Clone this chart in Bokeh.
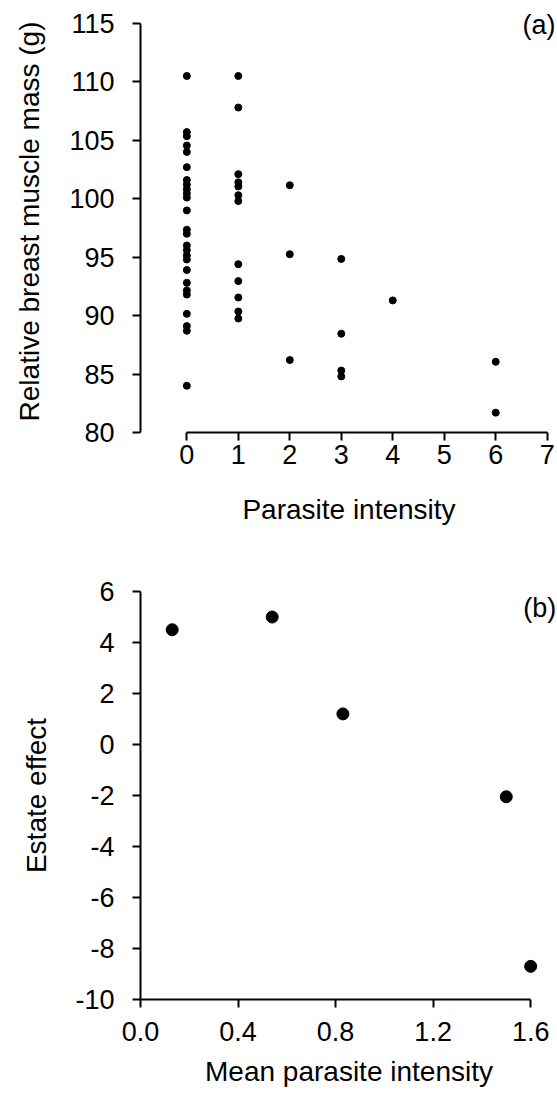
from bokeh.plotting import figure
from bokeh.layouts import column
from bokeh.models import FixedTicker, Label, Range1d
from bokeh.embed import file_html
from bokeh.resources import INLINE

FONT = "Liberation Sans"

# ---------------- Panel (a) data ----------------
mass_intensity_0 = [110.5, 105.7, 105.35, 104.55, 104.0, 102.7, 101.6, 101.2, 100.8,
                    100.45, 100.1, 99.0, 97.35, 97.0, 96.0, 95.6, 95.15, 94.8, 93.9,
                    92.8, 92.15, 91.8, 90.15, 89.1, 88.7, 84.0]
mass_intensity_1 = [110.5, 107.8, 102.1, 101.4, 101.05, 100.3, 99.8, 94.4, 92.95,
                    91.55, 90.35, 89.75]
mass_intensity_2 = [101.15, 95.25, 86.2]
mass_intensity_3 = [94.85, 88.45, 85.3, 84.8]
mass_intensity_4 = [91.3]
mass_intensity_6 = [86.05, 81.7]

a_groups = [(0, mass_intensity_0), (1, mass_intensity_1), (2, mass_intensity_2),
            (3, mass_intensity_3), (4, mass_intensity_4), (6, mass_intensity_6)]
parasite_intensity = [g for g, vals in a_groups for _ in vals]
breast_muscle_mass = [v for g, vals in a_groups for v in vals]

a_x_ticks = [0, 1, 2, 3, 4, 5, 6, 7]
a_y_ticks = [80, 85, 90, 95, 100, 105, 110, 115]

# ---------------- Panel (b) data ----------------
mean_parasite_intensity = [0.13, 0.54, 0.83, 1.50, 1.60]
estate_effect = [4.5, 5.0, 1.2, -2.05, -8.7]

b_x_ticks = [0.0, 0.4, 0.8, 1.2, 1.6]
b_x_labels = ["0.0", "0.4", "0.8", "1.2", "1.6"]
b_y_ticks = [-10, -8, -6, -4, -2, 0, 2, 4, 6]
b_y_labels = ["-10", "-8", "-6", "-4", "-2", "0", "2", "4", "6"]


def style(p, xt, xl, yt, yl, x_std, xlab_std, y_std, ylab_std):
    p.xgrid.visible = False
    p.ygrid.visible = False
    p.outline_line_color = None
    p.background_fill_color = "white"
    p.border_fill_color = "white"
    for ax in (p.xaxis[0], p.yaxis[0]):
        ax.axis_line_width = 2
        ax.axis_line_color = "black"
        ax.major_tick_line_width = 2
        ax.major_tick_line_color = "black"
        ax.major_tick_in = 0
        ax.major_tick_out = 8
        ax.minor_tick_line_color = None
        ax.major_label_text_font = FONT
        ax.major_label_text_font_size = "27px"
        ax.major_label_text_color = "black"
        ax.axis_label_text_font = FONT
        ax.axis_label_text_font_size = "28px"
        ax.axis_label_text_font_style = "normal"
        ax.axis_label_text_color = "black"
    p.xaxis[0].ticker = FixedTicker(ticks=xt)
    p.yaxis[0].ticker = FixedTicker(ticks=yt)
    p.xaxis[0].bounds = (xt[0], xt[-1])
    p.yaxis[0].bounds = (yt[0], yt[-1])
    p.xaxis[0].major_label_overrides = {t: s for t, s in zip(xt, xl)}
    p.yaxis[0].major_label_overrides = {t: s for t, s in zip(yt, yl)}
    p.xaxis[0].major_label_standoff = x_std
    p.xaxis[0].axis_label_standoff = xlab_std
    p.yaxis[0].major_label_standoff = y_std
    p.yaxis[0].axis_label_standoff = ylab_std


# ---------------- Figure (a) ----------------
pa = figure(width=557, height=535, output_backend="svg", toolbar_location=None,
            x_range=Range1d(-0.9, 7.2), y_range=Range1d(80, 116.1),
            min_border_left=140, min_border_right=0, min_border_top=10,
            min_border_bottom=103,
            x_axis_label="Parasite intensity",
            y_axis_label="Relative breast muscle mass (g)")
style(pa, a_x_ticks, [str(t) for t in a_x_ticks], a_y_ticks, [str(t) for t in a_y_ticks],
      4, 27, 18, 21)
pa.scatter(parasite_intensity, breast_muscle_mass, size=7, color="black")
pa.add_layout(Label(x=7.16, y=114.9, text="(a)", text_align="right",
                    text_baseline="middle", text_font=FONT, text_font_size="27px",
                    text_color="black"))

# ---------------- Figure (b) ----------------
pb = figure(width=557, height=560, output_backend="svg", toolbar_location=None,
            x_range=Range1d(0, 1.71), y_range=Range1d(-10, 6),
            min_border_left=122, min_border_right=0, min_border_top=56,
            min_border_bottom=96,
            x_axis_label="Mean parasite intensity",
            y_axis_label="Estate effect")
style(pb, b_x_ticks, b_x_labels, b_y_ticks, b_y_labels, 14, 12, 18, 20)
pb.scatter(mean_parasite_intensity, estate_effect, size=12, color="black")
pb.add_layout(Label(x=1.705, y=5.35, text="(b)", text_align="right",
                    text_baseline="middle", text_font=FONT, text_font_size="27px",
                    text_color="black"))

layout = column(pa, pb, spacing=0)
open("out.html", "w").write(file_html(layout, INLINE))
